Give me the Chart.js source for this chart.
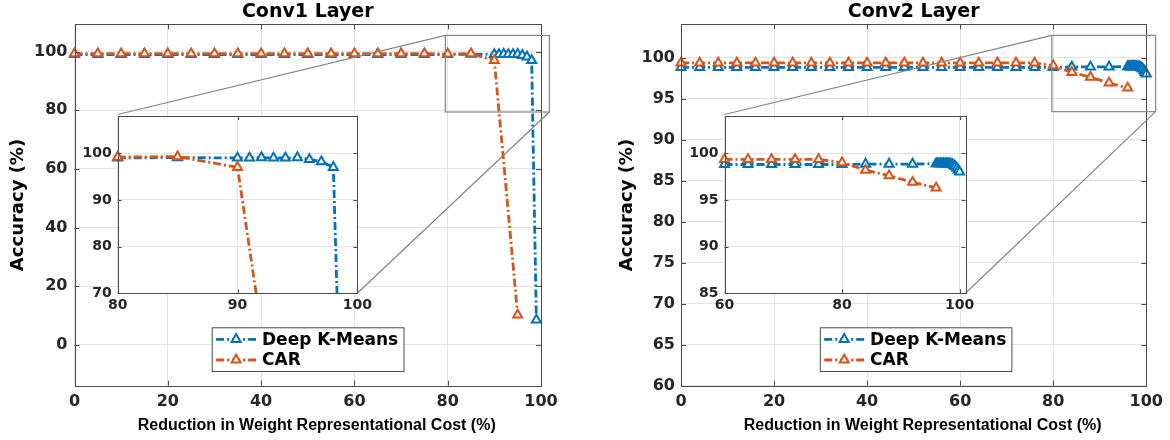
<!DOCTYPE html>
<html>
<head>
<meta charset="utf-8">
<script src="https://cdn.jsdelivr.net/npm/chart.js@4.4.1/dist/chart.umd.min.js"></script>
<style>
  html, body { margin: 0; padding: 0; background: #fff; }
  #wrap { position: relative; width: 1170px; height: 440px; overflow: hidden; }
  .pane { position: absolute; }
</style>
</head>
<body>
<div id="wrap">
  <div class="pane" style="left:0;top:0"><canvas id="main1" width="590" height="440"></canvas></div>
  <div class="pane" style="left:590px;top:0"><canvas id="main2" width="580" height="440"></canvas></div>
  <div class="pane" style="left:80px;top:100px"><canvas id="inset1" width="300" height="230"></canvas></div>
  <div class="pane" style="left:680px;top:100px"><canvas id="inset2" width="310" height="230"></canvas></div>
</div>
<script>
// ---- data ----
var seriesNames = ['Deep K-Means', 'CAR'];
var panelTitles = ['Conv1 Layer', 'Conv2 Layer'];
var xTitle = 'Reduction in Weight Representational Cost (%)';
var yTitle = 'Accuracy (%)';

var conv1KmX = [0, 5, 10, 15, 20, 25, 30, 35, 40, 45, 50, 55, 60, 65, 70, 75, 80, 85,
                90, 91, 92, 93, 94, 95, 96, 97, 98, 99];
var conv1KmY = [99.0, 99.0, 99.0, 99.0, 99.0, 99.0, 99.0, 99.0, 99.0, 99.0, 99.0, 99.0, 99.0, 99.0, 99.0, 99.0, 99.0, 99.1,
                99.0, 99.0, 99.1, 99.0, 99.0, 99.1, 98.7, 98.2, 97.0, 8.5];
var conv1CarX = [0, 5, 10, 15, 20, 25, 30, 35, 40, 45, 50, 55, 60, 65, 70, 75, 80, 85, 90, 95];
var conv1CarY = [99.3, 99.3, 99.3, 99.3, 99.3, 99.3, 99.3, 99.3, 99.3, 99.3, 99.3, 99.3, 99.3, 99.3, 99.3, 99.3, 99.2, 99.3, 97.0, 10.2];

var conv2KmX = [0, 4, 8, 12, 16, 20, 24, 28, 32, 36, 40, 44, 48, 52, 56, 60, 64, 68, 72, 76, 80, 84, 88, 92,
                96, 96.25, 96.5, 96.75, 97, 97.25, 97.5, 97.75, 98, 98.25, 98.5, 98.75, 99, 99.25, 99.5, 99.75, 100];
var conv2KmY = [98.8, 98.8, 98.8, 98.8, 98.8, 98.8, 98.8, 98.8, 98.8, 98.8, 98.8, 98.8, 98.8, 98.8, 98.8, 98.8, 98.8, 98.8, 98.8, 98.8, 98.8, 98.85, 98.85, 98.85,
                98.9, 98.9, 98.9, 98.9, 98.9, 98.9, 98.9, 98.9, 98.9, 98.85, 98.85, 98.8, 98.7, 98.6, 98.4, 98.2, 98.0];
var conv2CarX = [0, 4, 8, 12, 16, 20, 24, 28, 32, 36, 40, 44, 48, 52, 56, 60, 64, 68, 72, 76, 80, 84, 88, 92, 96];
var conv2CarY = [99.35, 99.35, 99.35, 99.35, 99.35, 99.35, 99.35, 99.35, 99.35, 99.35, 99.35, 99.35, 99.35, 99.35, 99.35, 99.35, 99.35, 99.35, 99.35, 99.35,
                 99.0, 98.2, 97.6, 96.9, 96.3];

var mainXTicks = [0, 20, 40, 60, 80, 100];
var conv1YTicks = [0, 20, 40, 60, 80, 100];
var conv2YTicks = [60, 65, 70, 75, 80, 85, 90, 95, 100];
var inset1XTicks = [80, 90, 100];
var inset1YTicks = [70, 80, 90, 100];
var inset2XTicks = [60, 80, 100];
var inset2YTicks = [85, 90, 95, 100];

// ---- styling ----
var BLUE = '#0072BD', ORANGE = '#D95319';
var DASH = [8, 3, 2, 3];
var AXIS = '#4a4a4a', GRID = '#e3e3e3', TEXT = '#262626', ZOOM = '#858585';

Chart.defaults.font.family = "'DejaVu Sans', sans-serif";
Chart.defaults.font.weight = 'bold';
Chart.defaults.color = TEXT;
Chart.defaults.animation = false;

function points(xs, ys, xmin) {
  var out = [];
  xs.forEach((x, i) => {
    if (xmin === undefined || x >= xmin) out.push({x: x, y: ys[i]});
  });
  return out;
}

function makeDatasets(kmX, kmY, carX, carY, xmin, clip) {
  var base = {
    borderWidth: 2.8, borderDash: DASH, borderCapStyle: 'butt', tension: 0, fill: false,
    pointStyle: 'triangle', pointRadius: 5.2, pointBorderWidth: 2,
    pointBackgroundColor: '#fff', clip: clip
  };
  return [
    Object.assign({}, base, {label: seriesNames[0], data: points(kmX, kmY, xmin),
      borderColor: BLUE, pointBorderColor: BLUE, order: 2}),
    Object.assign({}, base, {label: seriesNames[1], data: points(carX, carY, xmin),
      borderColor: ORANGE, pointBorderColor: ORANGE, order: 1})
  ];
}

function makeScale(o) {
  var s = {
    type: 'linear',
    min: o.min, max: o.max,
    grid: {color: GRID, drawTicks: false, lineWidth: 1},
    border: {display: false},
    ticks: {font: {size: o.fontSize, weight: 'bold'}, padding: o.pad, autoSkip: false, maxRotation: 0, color: TEXT},
    title: {display: false},
    afterBuildTicks: (axis) => { axis.ticks = o.ticks.map((v) => ({value: v})); },
    afterFit: (axis) => {
      if (axis.isHorizontal()) axis.height = o.size; else axis.width = o.size;
    }
  };
  if (o.title) {
    s.title = {display: true, text: o.title, color: '#000',
      font: {family: "'DejaVu Sans'", size: o.titleSize, weight: 'bold'},
      padding: o.titlePad};
  }
  return s;
}

// white plot area, box and inward ticks like the original axes
var axesBox = {
  id: 'axesBox',
  beforeDraw(chart, args, opts) {
    if (!opts.fillArea) return;
    var a = chart.chartArea;
    chart.ctx.save();
    chart.ctx.fillStyle = '#fff';
    chart.ctx.fillRect(a.left, a.top, a.width, a.height);
    chart.ctx.restore();
  },
  afterDatasetsDraw(chart, args, opts) {
    var a = chart.chartArea, ctx = chart.ctx, len = opts.len || 5;
    var xs = chart.scales.x, ys = chart.scales.y;
    ctx.save();
    ctx.strokeStyle = AXIS;
    ctx.lineWidth = 1;
    ctx.beginPath();
    xs.ticks.forEach((t) => {
      var px = Math.round(xs.getPixelForValue(t.value)) + 0.5;
      ctx.moveTo(px, a.bottom); ctx.lineTo(px, a.bottom - len);
      ctx.moveTo(px, a.top); ctx.lineTo(px, a.top + len);
    });
    ys.ticks.forEach((t) => {
      var py = Math.round(ys.getPixelForValue(t.value)) + 0.5;
      ctx.moveTo(a.left, py); ctx.lineTo(a.left + len, py);
      ctx.moveTo(a.right, py); ctx.lineTo(a.right - len, py);
    });
    ctx.stroke();
    ctx.strokeRect(Math.round(a.left) + 0.5, Math.round(a.top) + 0.5,
      Math.round(a.right) - Math.round(a.left), Math.round(a.bottom) - Math.round(a.top));
    ctx.restore();
  }
};

// panel title and x-axis title, placed like the original figure
var panelText = {
  id: 'panelText',
  afterDraw(chart, args, opts) {
    if (!opts.title) return;
    var a = chart.chartArea, ctx = chart.ctx, mid = (a.left + a.right) / 2;
    ctx.save();
    ctx.fillStyle = '#000';
    ctx.textAlign = 'center';
    ctx.textBaseline = 'middle';
    ctx.font = "bold 19px 'DejaVu Sans'";
    ctx.fillText(opts.title, mid, 12);
    ctx.font = "bold 16px 'Liberation Sans'";
    ctx.fillText(opts.xTitle, mid + opts.xShift, 426);
    ctx.restore();
  }
};

// zoom rectangle plus the two lines joining it to the inset
var zoomBox = {
  id: 'zoomBox',
  afterDatasetsDraw(chart, args, o) {
    if (!o.inset) return;
    var xs = chart.scales.x, ys = chart.scales.y, ctx = chart.ctx;
    var l = xs.getPixelForValue(o.x0), r = xs.getPixelForValue(o.x1);
    var t = ys.getPixelForValue(o.y1), b = ys.getPixelForValue(o.y0);
    var ia = o.inset.chartArea;
    var dx = o.inset.canvas.parentNode.offsetLeft - chart.canvas.parentNode.offsetLeft;
    var dy = o.inset.canvas.parentNode.offsetTop - chart.canvas.parentNode.offsetTop;
    ctx.save();
    ctx.strokeStyle = ZOOM;
    ctx.lineWidth = 1.2;
    ctx.strokeRect(l, t, r - l, b - t);
    ctx.beginPath();
    ctx.moveTo(l, t); ctx.lineTo(ia.left + dx, ia.top + dy - 1.5);
    ctx.moveTo(r, b); ctx.lineTo(ia.right + dx, ia.bottom + dy);
    ctx.stroke();
    ctx.restore();
  }
};

// boxed legend inside the axes
var boxLegend = {
  id: 'boxLegend',
  afterDraw(chart, args, o) {
    if (!o.box) return;
    var ctx = chart.ctx, b = o.box;
    ctx.save();
    ctx.fillStyle = '#fff';
    ctx.fillRect(b.left, b.top, b.width, b.height);
    ctx.strokeStyle = AXIS;
    ctx.lineWidth = 1;
    ctx.strokeRect(b.left + 0.5, b.top + 0.5, b.width, b.height);
    chart.data.datasets.forEach((ds, i) => {
      var y = b.top + o.rowY[i];
      var x0 = b.left + o.lineX0, x1 = b.left + o.lineX1;
      ctx.strokeStyle = ds.borderColor;
      ctx.lineWidth = ds.borderWidth;
      ctx.setLineDash(ds.borderDash);
      ctx.beginPath();
      ctx.moveTo(x0, y); ctx.lineTo(x1, y);
      ctx.stroke();
      ctx.setLineDash([]);
      ctx.fillStyle = '#fff';
      ctx.lineWidth = ds.pointBorderWidth;
      Chart.helpers.drawPoint(ctx, {pointStyle: 'triangle', radius: ds.pointRadius,
        borderWidth: ds.pointBorderWidth, rotation: 0}, (x0 + x1) / 2, y);
      ctx.fillStyle = '#000';
      ctx.font = "bold 17px 'DejaVu Sans'";
      ctx.textBaseline = 'middle';
      ctx.fillText(ds.label, b.left + o.textX, y + 1);
    });
    ctx.restore();
  }
};

var plugins = [axesBox, panelText, zoomBox, boxLegend];

function makeChart(id, cfg) {
  return new Chart(document.getElementById(id), {
    type: 'line',
    data: {datasets: cfg.datasets},
    options: {
      responsive: false,
      animation: false,
      layout: {padding: cfg.padding},
      plugins: {
        legend: {display: false},
        tooltip: {enabled: false},
        axesBox: {fillArea: cfg.fillArea, len: cfg.tickLen},
        panelText: {title: cfg.title, xTitle: xTitle, xShift: 9},
        zoomBox: cfg.zoom || {},
        boxLegend: cfg.legend || {}
      },
      scales: {x: cfg.x, y: cfg.y}
    },
    plugins: plugins
  });
}

var insetClip = {left: 8, top: 8, right: 8, bottom: 0};

var inset1 = makeChart('inset1', {
  datasets: makeDatasets(conv1KmX, conv1KmY, conv1CarX, conv1CarY, 80, insetClip),
  padding: {left: 0, top: 16, right: 22.7, bottom: 0},
  fillArea: true, tickLen: 4,
  x: makeScale({min: 80, max: 100, ticks: inset1XTicks, fontSize: 14, pad: 4, size: 36.7}),
  y: makeScale({min: 70, max: 108, ticks: inset1YTicks, fontSize: 14, pad: 6, size: 37.7})
});

var inset2 = makeChart('inset2', {
  datasets: makeDatasets(conv2KmX, conv2KmY, conv2CarX, conv2CarY, 60, insetClip),
  padding: {left: 0, top: 16, right: 24.5, bottom: 0},
  fillArea: true, tickLen: 4,
  x: makeScale({min: 60, max: 101, ticks: inset2XTicks, fontSize: 14, pad: 4, size: 36.7}),
  y: makeScale({min: 85, max: 104, ticks: inset2YTicks, fontSize: 14, pad: 6, size: 44.5})
});

var legendLayout = {lineX0: 4.4, lineX1: 44.4, textX: 50.3, rowY: [12, 32.7]};

makeChart('main1', {
  datasets: makeDatasets(conv1KmX, conv1KmY, conv1CarX, conv1CarY, undefined, false),
  padding: {left: 0, top: 24.3, right: 49, bottom: 0},
  title: panelTitles[0], tickLen: 5,
  zoom: {x0: 79.5, x1: 101.8, y0: 79.4, y1: 105.5, inset: inset1},
  legend: Object.assign({box: {left: 211.7, top: 327.3, width: 191.8, height: 43.7}}, legendLayout),
  x: makeScale({min: 0, max: 100, ticks: mainXTicks, fontSize: 16, pad: 7, size: 54.3}),
  y: makeScale({min: -13.9, max: 109.3, ticks: conv1YTicks, fontSize: 16, pad: 7, size: 74.5,
    title: yTitle, titleSize: 18, titlePad: {top: 7.2, bottom: 0}})
});

makeChart('main2', {
  datasets: makeDatasets(conv2KmX, conv2KmY, conv2CarX, conv2CarY, undefined, false),
  padding: {left: 0, top: 24.3, right: 21.7, bottom: 0},
  title: panelTitles[1], tickLen: 5,
  zoom: {x0: 79.7, x1: 102, y0: 93.4, y1: 102.7, inset: inset2},
  legend: Object.assign({box: {left: 229.8, top: 327.3, width: 191.6, height: 43.7}}, legendLayout),
  x: makeScale({min: 0, max: 100, ticks: mainXTicks, fontSize: 16, pad: 7, size: 54.3}),
  y: makeScale({min: 60, max: 104.05, ticks: conv2YTicks, fontSize: 16, pad: 6, size: 91,
    title: yTitle, titleSize: 18, titlePad: {top: 26.2, bottom: 0}})
});
</script>
</body>
</html>
